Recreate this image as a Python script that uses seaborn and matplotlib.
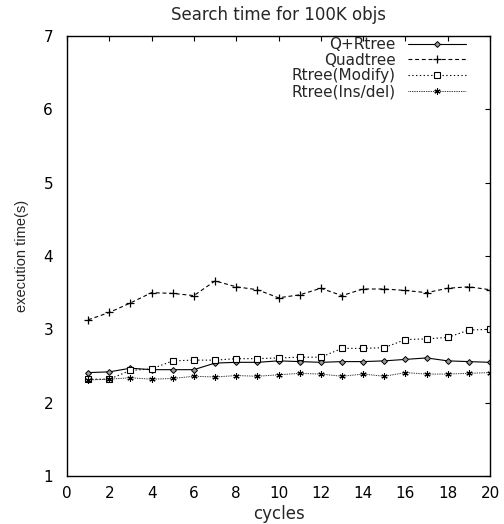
import matplotlib
matplotlib.use("Agg")
import matplotlib.pyplot as plt
import seaborn as sns
import pandas as pd

cycles = list(range(1, 21))
q_rtree = [2.41, 2.42, 2.47, 2.45, 2.45, 2.45, 2.54, 2.55, 2.55, 2.57,
           2.56, 2.55, 2.56, 2.56, 2.57, 2.59, 2.61, 2.57, 2.56, 2.55]
quadtree = [3.13, 3.23, 3.36, 3.50, 3.49, 3.46, 3.66, 3.58, 3.54, 3.43,
            3.47, 3.56, 3.46, 3.55, 3.55, 3.53, 3.50, 3.56, 3.58, 3.54]
rtree_modify = [2.32, 2.32, 2.44, 2.46, 2.57, 2.58, 2.58, 2.60, 2.60, 2.61,
                2.62, 2.62, 2.74, 2.74, 2.75, 2.86, 2.87, 2.89, 2.99, 3.00]
rtree_insdel = [2.31, 2.32, 2.34, 2.32, 2.33, 2.36, 2.35, 2.37, 2.36, 2.38,
                2.40, 2.39, 2.36, 2.39, 2.36, 2.41, 2.39, 2.39, 2.40, 2.41]
series_names = ["Q+Rtree", "Quadtree", "Rtree(Modify)", "Rtree(Ins/del)"]
x_ticks = list(range(0, 21, 2))
y_ticks = list(range(1, 8))

sns.set_style("white")
plt.rcParams['font.family'] = ['DejaVu Sans']

df = pd.DataFrame({
    "cycles": cycles * 4,
    "value": q_rtree + quadtree + rtree_modify + rtree_insdel,
    "series": sum([[n] * len(cycles) for n in series_names], []),
})

fig = plt.figure(figsize=(5.04, 5.24), dpi=100)
ax = fig.add_axes([67 / 504, 1 - 476 / 524, (490 - 67) / 504, (476 - 36) / 524])

styles = {
    "Q+Rtree": dict(linestyle="-", marker="D", markersize=3.0, markerfacecolor="#999999",
                    markeredgecolor="black", markeredgewidth=0.7, linewidth=0.8),
    "Quadtree": dict(linestyle=(0, (3.5, 2.5)), marker="+", markersize=5.5,
                     markeredgecolor="black", markeredgewidth=0.9, linewidth=0.8),
    "Rtree(Modify)": dict(linestyle=(0, (1.2, 2.2)), marker="s", markersize=3.8, markerfacecolor="white",
                          markeredgecolor="black", markeredgewidth=0.8, linewidth=0.8),
    "Rtree(Ins/del)": dict(linestyle=(0, (0.8, 1.0)), marker=(6, 2, 0), markersize=4.5,
                           markeredgecolor="black", markeredgewidth=0.8, linewidth=0.7),
}

handles = []
for name in series_names:
    sub = df[df["series"] == name]
    n_before = len(ax.lines)
    sns.lineplot(data=sub, x="cycles", y="value", ax=ax, color="black", legend=False)
    line = ax.lines[n_before]
    line.set(**styles[name])
    line.set_label(name)
    handles.append(line)

ax.set_xlim(0, 20)
ax.set_ylim(1, 7)
ax.set_xticks(x_ticks)
ax.set_yticks(y_ticks)
ax.tick_params(direction="in", top=True, right=True, length=3.5, width=0.8,
               labelsize=11, colors="black")
ax.tick_params(axis="x", pad=7)
ax.tick_params(axis="y", pad=10)
for s in ax.spines.values():
    s.set_color("black")
    s.set_linewidth(1.0)
ax.set_xlabel("cycles", fontsize=12, labelpad=3)
ax.set_ylabel("execution time(s)", fontsize=10.5, labelpad=10,
              family=["Liberation Sans", "DejaVu Sans"])
ax.set_title("Search time for 100K objs", fontsize=12, pad=11.5)

leg = ax.legend(handles=handles, loc="upper right", bbox_to_anchor=(0.943, 0.998),
                frameon=False, markerfirst=False, fontsize=11,
                handlelength=3.8, handletextpad=0.78, labelspacing=0.05,
                borderaxespad=0.0, borderpad=0.0, numpoints=1)

fig.savefig("out.png", dpi=100)
